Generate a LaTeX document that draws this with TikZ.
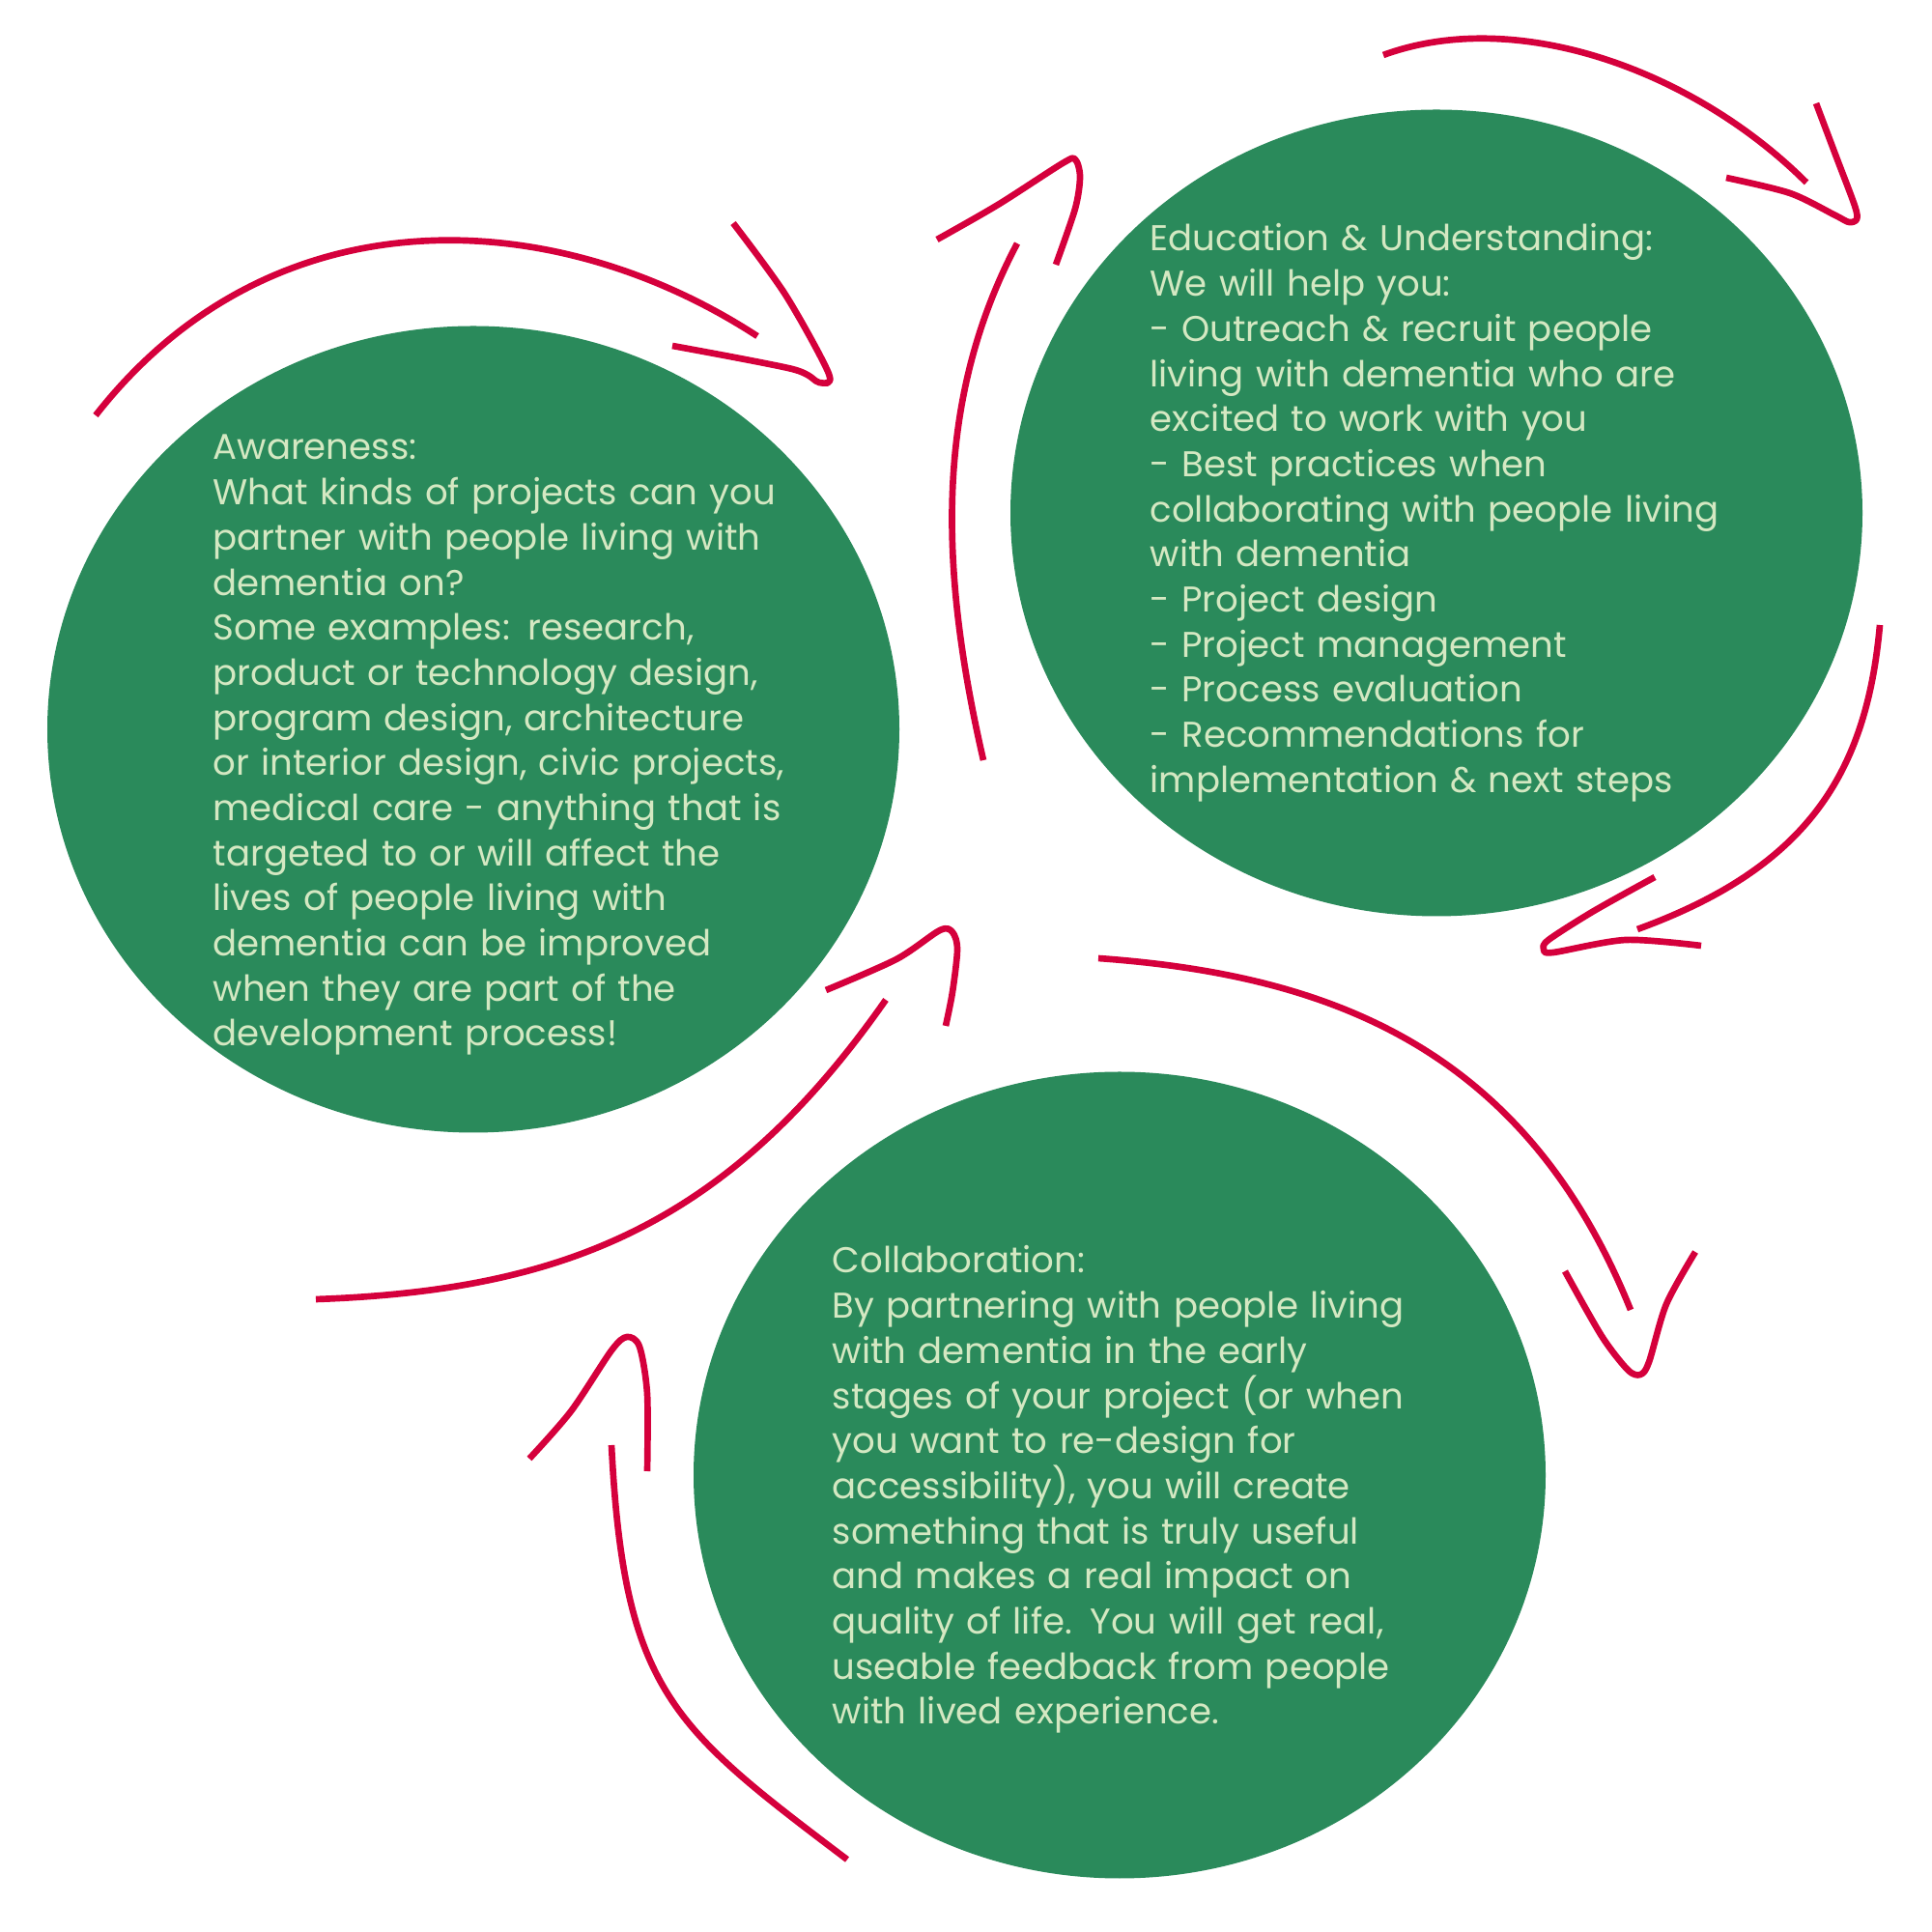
\documentclass[tikz,border=0pt]{standalone}
\usepackage{fontspec}
\setmainfont{Poppins}
\definecolor{dmGreen}{HTML}{2A8A5B}
\definecolor{dmCream}{HTML}{D4E8C2}
\definecolor{dmRed}{HTML}{D5003C}
\usetikzlibrary{shapes.geometric}

\begin{document}
\begin{tikzpicture}[
  blob/.style={ellipse,fill=dmGreen,draw=none,minimum width=8.82cm,minimum height=8.35cm,inner sep=0pt},
  blurb/.style={anchor=base west,text=dmCream,inner sep=0pt,text width=7.2cm,align=left,
                font=\fontsize{10.55}{13.28}\selectfont},
  stroke/.style={draw=dmRed,line width=1.9pt,line cap=butt,line join=round}
]
\useasboundingbox[fill=white] (0,0) rectangle (20,20);

\node[blob] (aware) at (4.90,12.45) {};
\node[blob] (edu) at (14.87,14.69) {};
\node[blob] (collab) at (11.59,4.73) {};

\node[blurb] (awaretext) at (2.20,15.24) {Awareness:\\What kinds of projects can you\\partner with people living with\\dementia on?\\Some examples: research,\\product or technology design,\\program design, architecture\\or interior design, civic projects,\\medical care - anything that is\\targeted to or will affect the\\lives of people living with\\dementia can be improved\\when they are part of the\\development process!};
\node[blurb] (edutext) at (11.90,17.40) {Education \& Understanding:\\We will help you:\\- Outreach \& recruit people\\living with dementia who are\\excited to work with you\\- Best practices when\\collaborating with people living\\with dementia\\- Project design\\- Project management\\- Process evaluation\\- Recommendations for\\implementation \& next steps};
\node[blurb] (collabtext) at (8.61,6.82) {Collaboration:\\By partnering with people living\\with dementia in the early\\stages of your project (or when\\you want to re-design for\\accessibility), you will create\\something that is truly useful\\and makes a real impact on\\quality of life. You will get real,\\useable feedback from people\\with lived experience.};

% over awareness
\draw[stroke] (0.99,15.70) .. controls (2.82,18.04) and (5.74,17.89) .. (7.84,16.52);
\draw[stroke] plot[smooth,tension=.5] coordinates {(7.59,17.69) (8.13,16.95) (8.58,16.13) (8.48,16.04) (8.20,16.18) (6.96,16.42)};
% over education
\draw[stroke] (14.32,19.43) .. controls (15.71,19.94) and (17.55,19.26) .. (18.70,18.11);
\draw[stroke] plot[smooth,tension=.5] coordinates {(18.80,18.93) (19.00,18.40) (19.20,17.87) (19.22,17.73) (19.14,17.70) (19.00,17.77) (18.53,18.00) (17.87,18.16)};
% right of education
\draw[stroke] (19.46,13.53) .. controls (19.32,11.96) and (18.68,11.01) .. (16.95,10.38);
\draw[stroke] plot[smooth,tension=.5] coordinates {(17.13,10.92) (16.50,10.57) (16.03,10.27) (15.98,10.17) (16.08,10.14) (16.83,10.27) (17.61,10.21)};
% down to collaboration
\draw[stroke] (11.37,10.08) .. controls (13.74,9.91) and (15.78,9.17) .. (16.88,6.44);
\draw[stroke] plot[smooth,tension=.5] coordinates {(16.20,6.84) (16.58,6.17) (16.85,5.82) (16.98,5.77) (17.07,5.90) (17.25,6.50) (17.55,7.04)};
% left of collaboration
\draw[stroke] (8.77,0.75) .. controls (6.96,2.12) and (6.46,2.49) .. (6.33,5.04);
\draw[stroke] plot[smooth,tension=.5] coordinates {(5.48,4.90) (5.91,5.39) (6.33,6.02) (6.49,6.16) (6.62,6.06) (6.70,5.57) (6.70,4.77)};
% up from bottom left
\draw[stroke] (3.27,6.55) .. controls (5.80,6.64) and (7.52,7.29) .. (9.17,9.65);
\draw[stroke] plot[smooth,tension=.5] coordinates {(8.55,9.75) (9.28,10.07) (9.73,10.37) (9.86,10.35) (9.91,10.17) (9.86,9.73) (9.79,9.38)};
% between awareness and education
\draw[stroke] (10.18,12.13) .. controls (9.74,14.04) and (9.65,15.82) .. (10.53,17.48);
\draw[stroke] plot[smooth,tension=.5] coordinates {(9.70,17.52) (10.33,17.88) (11.00,18.31) (11.13,18.35) (11.18,18.17) (11.13,17.84) (10.93,17.26)};
\end{tikzpicture}
\end{document}
